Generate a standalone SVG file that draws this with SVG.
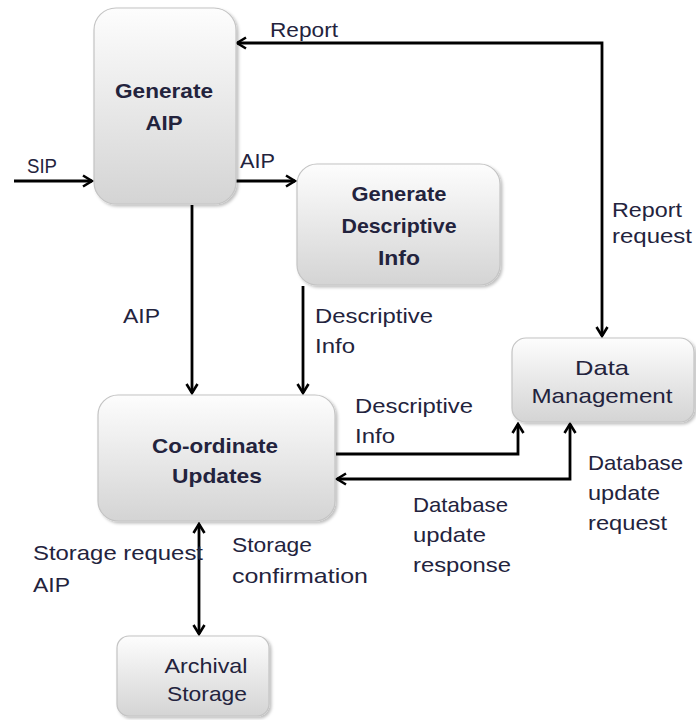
<svg xmlns="http://www.w3.org/2000/svg" width="696" height="720" viewBox="0 0 696 720">
<style>
text{font-family:"Liberation Sans",Arial,sans-serif;font-size:21px;fill:#23233d}
.b{font-weight:bold}
.m{text-anchor:middle}
.box{fill:url(#g);stroke:#c4c4c4;stroke-width:1.2;filter:url(#sh)}
.c{fill:none;stroke:#000;stroke-width:2.8}
</style>
<defs>
<linearGradient id="g" x1="0" y1="0" x2="0" y2="1">
<stop offset="0" stop-color="#fdfdfd"/>
<stop offset="1" stop-color="#d4d4d4"/>
</linearGradient>
<filter id="sh" x="-10%" y="-10%" width="125%" height="125%">
<feDropShadow dx="2" dy="2" stdDeviation="1.5" flood-color="#000" flood-opacity="0.25"/>
</filter>
<marker id="a" viewBox="0 0 14 14" refX="12" refY="7" markerWidth="14" markerHeight="14" markerUnits="userSpaceOnUse" orient="auto-start-reverse">
<path d="M3,1.5 L12,7 L3,12.5" fill="none" stroke="#000" stroke-width="2.6"/>
</marker>
</defs>
<g id="connectors">
<path class="c" d="M14,181 H92" marker-end="url(#a)"/>
<path class="c" d="M602,336 V43 H237" marker-start="url(#a)" marker-end="url(#a)"/>
<path class="c" d="M236,181 H295" marker-end="url(#a)"/>
<path class="c" d="M192,205 V393" marker-end="url(#a)"/>
<path class="c" d="M303,286 V393" marker-end="url(#a)"/>
<path class="c" d="M336,454 H518 V424" marker-end="url(#a)"/>
<path class="c" d="M570,424 V479 H337" marker-start="url(#a)" marker-end="url(#a)"/>
<path class="c" d="M199,524 V634" marker-start="url(#a)" marker-end="url(#a)"/>
</g>
<g id="labels">
<text x="270" y="37" textLength="68" lengthAdjust="spacingAndGlyphs">Report</text>
<text x="27" y="173" textLength="30" lengthAdjust="spacingAndGlyphs">SIP</text>
<text x="240" y="168" textLength="35" lengthAdjust="spacingAndGlyphs">AIP</text>
<text x="612" y="217" textLength="70" lengthAdjust="spacingAndGlyphs">Report</text>
<text x="612" y="243" textLength="80" lengthAdjust="spacingAndGlyphs">request</text>
<text x="123" y="323" textLength="37" lengthAdjust="spacingAndGlyphs">AIP</text>
<text x="315" y="323" textLength="118" lengthAdjust="spacingAndGlyphs">Descriptive</text>
<text x="315" y="353" textLength="40" lengthAdjust="spacingAndGlyphs">Info</text>
<text x="355" y="413" textLength="118" lengthAdjust="spacingAndGlyphs">Descriptive</text>
<text x="355" y="443" textLength="40" lengthAdjust="spacingAndGlyphs">Info</text>
<text x="588" y="470" textLength="95" lengthAdjust="spacingAndGlyphs">Database</text>
<text x="588" y="500" textLength="72" lengthAdjust="spacingAndGlyphs">update</text>
<text x="588" y="530" textLength="79" lengthAdjust="spacingAndGlyphs">request</text>
<text x="413" y="512" textLength="95" lengthAdjust="spacingAndGlyphs">Database</text>
<text x="413" y="542" textLength="73" lengthAdjust="spacingAndGlyphs">update</text>
<text x="413" y="572" textLength="98" lengthAdjust="spacingAndGlyphs">response</text>
<text x="33" y="560" textLength="170" lengthAdjust="spacingAndGlyphs">Storage request</text>
<text x="33" y="592" textLength="37" lengthAdjust="spacingAndGlyphs">AIP</text>
<text x="232" y="552" textLength="80" lengthAdjust="spacingAndGlyphs">Storage</text>
<text x="232" y="583" textLength="136" lengthAdjust="spacingAndGlyphs">confirmation</text>
</g>
<g id="generate-aip">
<rect class="box" x="94" y="8" width="142" height="196" rx="22"/>
<text class="b m" x="164" y="98" textLength="98" lengthAdjust="spacingAndGlyphs">Generate</text>
<text class="b m" x="164" y="130" textLength="37" lengthAdjust="spacingAndGlyphs">AIP</text>
</g>
<g id="generate-descriptive-info">
<rect class="box" x="297" y="164" width="203" height="121" rx="20"/>
<text class="b m" x="399" y="201" textLength="95" lengthAdjust="spacingAndGlyphs">Generate</text>
<text class="b m" x="399" y="233" textLength="115" lengthAdjust="spacingAndGlyphs">Descriptive</text>
<text class="b m" x="399" y="265" textLength="42" lengthAdjust="spacingAndGlyphs">Info</text>
</g>
<g id="data-management">
<rect class="box" x="512" y="338" width="182" height="84" rx="14"/>
<text class="m" x="602" y="375" textLength="54" lengthAdjust="spacingAndGlyphs">Data</text>
<text class="m" x="602" y="403" textLength="141" lengthAdjust="spacingAndGlyphs">Management</text>
</g>
<g id="coordinate-updates">
<rect class="box" x="98" y="395" width="237" height="126" rx="20"/>
<text class="b m" x="215" y="453" textLength="126" lengthAdjust="spacingAndGlyphs">Co-ordinate</text>
<text class="b m" x="217" y="483" textLength="90" lengthAdjust="spacingAndGlyphs">Updates</text>
</g>
<g id="archival-storage">
<rect class="box" x="117" y="636" width="152" height="80" rx="12"/>
<text class="m" x="206" y="673" textLength="83" lengthAdjust="spacingAndGlyphs">Archival</text>
<text class="m" x="207" y="701" textLength="80" lengthAdjust="spacingAndGlyphs">Storage</text>
</g>
</svg>
